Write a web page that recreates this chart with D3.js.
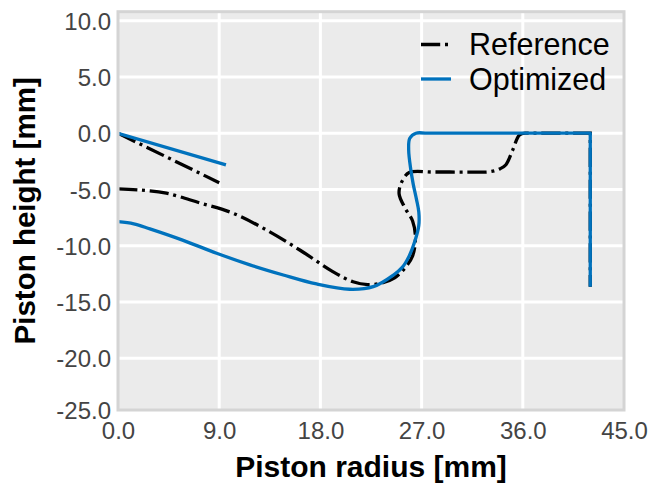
<!DOCTYPE html>
<html>
<head>
<meta charset="utf-8">
<script src="https://cdn.jsdelivr.net/npm/d3@7"></script>
<style>
  html, body { margin: 0; padding: 0; background: #ffffff; }
  svg { display: block; }
  text { font-family: "Liberation Sans", Arial, Helvetica, sans-serif; }
</style>
</head>
<body>
<svg id="chart" width="667" height="485"></svg>
<script>
// Piston bowl profiles: [radius mm, height mm]
// Reference profile: straight crown line, bowl curve, squish land + wall
const refCrown = [[0, 0], [9.0, -4.4]];
const refBowl = [
  [0, -4.95], [2.0, -5.05], [4.3, -5.33], [7.3, -6.2], [10.2, -7.1], [13.2, -8.6],
  [16.2, -10.4], [19.1, -12.3], [20.9, -13.2], [22.2, -13.45], [23.5, -13.3],
  [24.6, -12.85], [25.5, -12.0], [26.2, -10.9], [26.45, -9.3], [26.2, -7.8],
  [25.5, -6.6], [25.0, -5.4], [25.2, -4.4], [25.9, -3.5], [28.0, -3.45],
  [31.0, -3.45], [33.1, -3.42], [34.0, -3.15], [34.5, -2.8], [35.1, -1.5],
  [35.7, -0.15], [36.2, 0]
];
const refLand = [[36.2, 0], [42.0, 0], [42.0, -13.65]];

// Optimized profile
const optCrown = [[0, 0], [9.6, -2.82]];
const optBowl = [
  [0, -7.86], [1.4, -8.05], [2.84, -8.5], [5.8, -9.52], [8.77, -10.67], [11.73, -11.7],
  [14.7, -12.6], [17.66, -13.4], [20.6, -13.87], [22.7, -13.64], [24.5, -12.6],
  [25.3, -11.9], [25.9, -10.9], [26.4, -9.6], [26.75, -8.2], [26.75, -7.0],
  [26.55, -5.9], [26.25, -4.5], [26.05, -3.3], [25.85, -1.5], [25.95, -0.45],
  [26.5, 0], [27.3, 0]
];
const optLand = [[27.3, 0], [42.0, 0], [42.0, -13.65]];

const xTicks = [0, 9, 18, 27, 36, 45];
const yTicks = [10, 5, 0, -5, -10, -15, -20, -25];
const seriesNames = ["Reference", "Optimized"];
const seriesColors = ["#000000", "#0072BD"];

const svg = d3.select("#chart");
const pLeft = 118, pRight = 624, pTop = 11.7, pBottom = 410;

const x = d3.scaleLinear().domain([0, 45]).range([pLeft, pRight]);
const y = d3.scaleLinear().domain([-24.6, 10.8]).range([pBottom, pTop]).clamp(true);

// one decimal, plain hyphen for negatives
const fmt = d => d.toFixed(1);

// plot background
svg.append("rect")
  .attr("x", pLeft).attr("y", pTop)
  .attr("width", pRight - pLeft).attr("height", pBottom - pTop)
  .attr("fill", "#ebebeb");

// grid
const grid = svg.append("g");
grid.selectAll("line.gx").data(xTicks.filter(d => d > 0 && d < 45)).join("line")
  .attr("class", "gx")
  .attr("x1", d => x(d)).attr("x2", d => x(d))
  .attr("y1", pTop).attr("y2", pBottom)
  .attr("stroke", "#ffffff").attr("stroke-width", 3);
grid.selectAll("line.gy").data(yTicks.filter(d => d > -24.6 && d < 10.8)).join("line")
  .attr("class", "gy")
  .attr("x1", pLeft).attr("x2", pRight)
  .attr("y1", d => y(d)).attr("y2", d => y(d))
  .attr("stroke", "#ffffff").attr("stroke-width", 3);

// tick labels via d3 axes
const xAxis = svg.append("g")
  .attr("transform", `translate(0,${pBottom})`)
  .call(d3.axisBottom(x).tickValues(xTicks).tickFormat(fmt).tickSize(0).tickPadding(12));
const yAxis = svg.append("g")
  .attr("transform", `translate(${pLeft},0)`)
  .call(d3.axisLeft(y).tickValues(yTicks).tickFormat(fmt).tickSize(0).tickPadding(7));
[xAxis, yAxis].forEach(g => {
  g.select(".domain").remove();
  g.selectAll("text")
    .attr("font-family", "Liberation Sans, Arial, sans-serif")
    .attr("font-size", 24).attr("fill", "#444444");
});
yAxis.selectAll("text").attr("dy", "0.36em");

// profile lines
svg.append("clipPath").attr("id", "plotclip")
  .append("rect").attr("x", pLeft).attr("y", pTop)
  .attr("width", pRight - pLeft).attr("height", pBottom - pTop);

const smooth = d3.line().x(d => x(d[0])).y(d => y(d[1]))
  .curve(d3.curveCatmullRom.alpha(0.5));
const straight = d3.line().x(d => x(d[0])).y(d => y(d[1]));

function profilePath(bowl, land) {
  return smooth(bowl) + straight(land).replace(/^M/, "L");
}

const lines = svg.append("g").attr("clip-path", "url(#plotclip)");
const refDash = "19.2,4.8,3,4.8";
const lw = 3.3;

lines.append("path").attr("d", straight(refCrown))
  .attr("fill", "none").attr("stroke", seriesColors[0]).attr("stroke-width", lw)
  .attr("stroke-dasharray", refDash);
lines.append("path").attr("d", profilePath(refBowl, refLand))
  .attr("fill", "none").attr("stroke", seriesColors[0]).attr("stroke-width", lw)
  .attr("stroke-dasharray", refDash);

lines.append("path").attr("d", straight(optCrown))
  .attr("fill", "none").attr("stroke", seriesColors[1]).attr("stroke-width", lw);
lines.append("path").attr("d", profilePath(optBowl, optLand))
  .attr("fill", "none").attr("stroke", seriesColors[1]).attr("stroke-width", lw)
  .attr("stroke-linejoin", "round");

// frame
svg.append("rect")
  .attr("x", pLeft).attr("y", pTop)
  .attr("width", pRight - pLeft).attr("height", pBottom - pTop)
  .attr("fill", "none").attr("stroke", "#d4d4d4").attr("stroke-width", 3);

// legend
const legend = svg.append("g");
seriesNames.forEach((name, i) => {
  const ly = 44.5 + i * 34.5;
  legend.append("line")
    .attr("x1", 421).attr("x2", 451).attr("y1", ly).attr("y2", ly)
    .attr("stroke", seriesColors[i]).attr("stroke-width", lw)
    .attr("stroke-dasharray", i === 0 ? refDash : null);
  legend.append("text")
    .attr("x", 469).attr("y", ly + 10.5)
    .attr("font-size", 30.5).attr("fill", "#000000")
    .text(name);
});

// axis titles
svg.append("text")
  .attr("x", (pLeft + pRight) / 2).attr("y", 477)
  .attr("text-anchor", "middle")
  .attr("font-size", 30).attr("font-weight", "bold").attr("fill", "#000000")
  .text("Piston radius [mm]");
svg.append("text")
  .attr("transform", `translate(35,${(pTop + pBottom) / 2}) rotate(-90)`)
  .attr("text-anchor", "middle")
  .attr("font-size", 29.5).attr("font-weight", "bold").attr("fill", "#000000")
  .text("Piston height [mm]");
</script>
</body>
</html>
